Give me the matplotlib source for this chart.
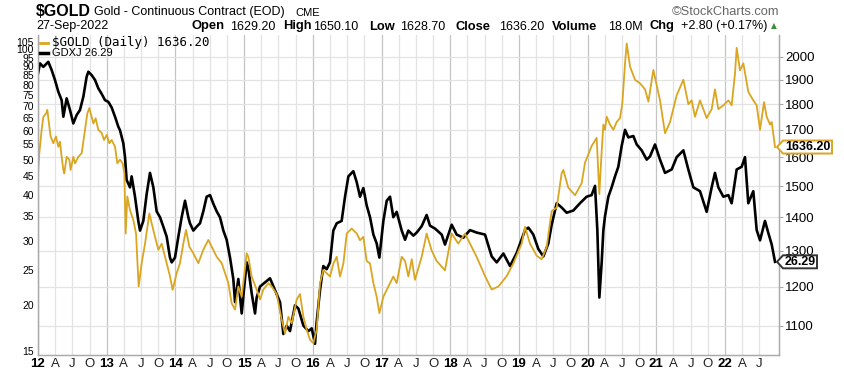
import numpy as np
import matplotlib.pyplot as plt
from matplotlib.lines import Line2D
from matplotlib.patches import Polygon
from matplotlib.transforms import IdentityTransform, blended_transform_factory
from matplotlib.ticker import NullLocator

plt.rcParams['font.family'] = ['Liberation Sans', 'DejaVu Sans']

# ---- data (decimal years) ----
gold_t = [2012.000, 2012.019, 2012.053, 2012.078, 2012.117, 2012.136, 2012.165, 2012.184, 2012.223, 2012.262,
          2012.296, 2012.320, 2012.344, 2012.369, 2012.383, 2012.417, 2012.456, 2012.475, 2012.514, 2012.539,
          2012.587, 2012.636, 2012.684, 2012.718, 2012.747, 2012.781, 2012.806, 2012.839, 2012.878, 2012.927,
          2012.961,
          2013.000, 2013.038, 2013.072, 2013.121, 2013.155, 2013.193, 2013.232, 2013.257, 2013.276, 2013.300,
          2013.339, 2013.388, 2013.427, 2013.465, 2013.509, 2013.558, 2013.621, 2013.655, 2013.703, 2013.752,
          2013.800, 2013.873, 2013.921, 2013.960,
          2014.018, 2014.067, 2014.115, 2014.154, 2014.203, 2014.261, 2014.334, 2014.406, 2014.479, 2014.528,
          2014.601, 2014.674, 2014.722, 2014.771, 2014.819, 2014.868, 2014.916, 2014.965,
          2015.038, 2015.062, 2015.110, 2015.183, 2015.232, 2015.280, 2015.353, 2015.402, 2015.474, 2015.547,
          2015.596, 2015.644, 2015.693, 2015.766, 2015.814, 2015.863, 2015.911, 2015.960,
          2016.008, 2016.056, 2016.105, 2016.153, 2016.202, 2016.250, 2016.299, 2016.348, 2016.396, 2016.445,
          2016.494, 2016.566, 2016.640, 2016.687, 2016.736, 2016.784, 2016.833, 2016.882, 2016.930, 2016.969,
          2017.027, 2017.100, 2017.172, 2017.221, 2017.294, 2017.343, 2017.391, 2017.440, 2017.487, 2017.585,
          2017.657, 2017.730, 2017.803, 2017.924,
          2018.022, 2018.117, 2018.215, 2018.288, 2018.385, 2018.507, 2018.604, 2018.701, 2018.822, 2018.919,
          2019.040, 2019.089, 2019.162, 2019.259, 2019.331, 2019.404, 2019.477, 2019.550, 2019.622, 2019.647,
          2019.719, 2019.817, 2019.914, 2019.962,
          2020.059, 2020.132, 2020.171, 2020.200, 2020.229, 2020.253, 2020.278, 2020.326, 2020.375, 2020.423,
          2020.472, 2020.505, 2020.545, 2020.569, 2020.618, 2020.690, 2020.763, 2020.836, 2020.885, 2020.957,
          2021.054, 2021.127, 2021.200, 2021.297, 2021.394, 2021.466, 2021.515, 2021.563, 2021.636, 2021.733,
          2021.806, 2021.854, 2021.903, 2021.976,
          2022.049, 2022.097, 2022.146, 2022.170, 2022.218, 2022.267, 2022.339, 2022.412, 2022.461, 2022.510,
          2022.568, 2022.607, 2022.655, 2022.680, 2022.728]
gold_v = [1543, 1614, 1700, 1750, 1763, 1777, 1712, 1675, 1650, 1675,
          1637, 1656, 1601, 1555, 1543, 1601, 1591, 1555, 1601, 1578,
          1601, 1614, 1700, 1763, 1784, 1750, 1724, 1744, 1700, 1688,
          1662,
          1681, 1650, 1662, 1637, 1578, 1591, 1578, 1543, 1350, 1466,
          1422, 1391, 1350, 1200, 1264, 1320, 1412, 1381, 1340, 1302,
          1320, 1264, 1228, 1191,
          1236, 1264, 1320, 1361, 1311, 1292, 1264, 1302, 1331, 1311,
          1282, 1264, 1236, 1209, 1156, 1140, 1200, 1173,
          1292, 1282, 1227, 1192, 1166, 1192, 1209, 1200, 1180, 1115,
          1081, 1122, 1106, 1166, 1180, 1122, 1090, 1066,
          1058, 1090, 1209, 1245, 1236, 1227, 1263, 1282, 1227, 1263,
          1350, 1365, 1350, 1330, 1340, 1270, 1263, 1209, 1173, 1131,
          1173, 1200, 1227, 1209, 1282, 1270, 1227, 1275, 1218, 1282,
          1350, 1300, 1270, 1244,
          1350, 1320, 1350, 1320, 1282, 1228, 1192, 1200, 1228, 1263,
          1320, 1370, 1320, 1285, 1275, 1310, 1419, 1430, 1543, 1555,
          1495, 1470, 1510, 1580,
          1640, 1670, 1474, 1600, 1720, 1700, 1750, 1720, 1700, 1730,
          1745, 1802, 1971, 2060, 1956, 1900, 1885, 1860, 1810, 1942,
          1815, 1687, 1730, 1836, 1900, 1800, 1815, 1750, 1815, 1745,
          1780, 1860, 1780, 1795,
          1815, 1795, 1928, 2040, 1940, 1971, 1850, 1815, 1795, 1700,
          1808, 1750, 1720, 1730, 1636.2]

gdxj_t = [2012.000, 2012.029, 2012.078, 2012.150, 2012.199, 2012.247, 2012.296, 2012.344, 2012.369, 2012.417,
          2012.466, 2012.514, 2012.563, 2012.611, 2012.660, 2012.708, 2012.733, 2012.781, 2012.830, 2012.878,
          2012.927, 2012.975,
          2013.024, 2013.072, 2013.121, 2013.169, 2013.193, 2013.242, 2013.266, 2013.290, 2013.339, 2013.363,
          2013.412, 2013.460, 2013.485, 2013.533, 2013.582, 2013.630, 2013.679, 2013.727, 2013.776, 2013.824,
          2013.873, 2013.921, 2013.946, 2013.994,
          2014.043, 2014.091, 2014.140, 2014.188, 2014.212, 2014.261, 2014.310, 2014.358, 2014.406, 2014.455,
          2014.504, 2014.552, 2014.601, 2014.649, 2014.698, 2014.746, 2014.795, 2014.843, 2014.868, 2014.916,
          2014.965,
          2015.013, 2015.038, 2015.062, 2015.110, 2015.159, 2015.183, 2015.232, 2015.304, 2015.377, 2015.450,
          2015.523, 2015.571, 2015.620, 2015.668, 2015.741, 2015.790, 2015.863, 2015.935, 2015.984,
          2016.032, 2016.056, 2016.105, 2016.153, 2016.202, 2016.250, 2016.299, 2016.348, 2016.420, 2016.469,
          2016.518, 2016.590, 2016.639, 2016.687, 2016.736, 2016.784, 2016.833, 2016.882, 2016.930, 2016.969,
          2017.027, 2017.076, 2017.124, 2017.172, 2017.221, 2017.294, 2017.343, 2017.391, 2017.464, 2017.512,
          2017.585, 2017.657, 2017.706, 2017.779, 2017.876, 2017.924,
          2018.022, 2018.094, 2018.191, 2018.288, 2018.385, 2018.507, 2018.604, 2018.677, 2018.774, 2018.871,
          2018.968,
          2019.089, 2019.138, 2019.210, 2019.283, 2019.356, 2019.428, 2019.477, 2019.550, 2019.622, 2019.695,
          2019.792, 2019.889, 2019.986,
          2020.059, 2020.108, 2020.142, 2020.171, 2020.205, 2020.229, 2020.253, 2020.302, 2020.350, 2020.399,
          2020.447, 2020.496, 2020.545, 2020.593, 2020.666, 2020.715, 2020.787, 2020.860, 2020.908, 2020.981,
          2021.054, 2021.127, 2021.224, 2021.297, 2021.394, 2021.466, 2021.539, 2021.636, 2021.733, 2021.806,
          2021.854, 2021.903, 2021.976,
          2022.049, 2022.097, 2022.170, 2022.243, 2022.291, 2022.339, 2022.412, 2022.461, 2022.510, 2022.582,
          2022.631, 2022.680, 2022.728]
gdxj_v = [86, 91.6, 89.6, 92.5, 87.8, 82.5, 76.6, 72.7, 65.5, 73.5,
          68.3, 62.8, 66.2, 68.3, 74.3, 84.2, 86.9, 85.1, 82.5, 78.3,
          75.6, 72.7,
          71.9, 69.4, 65.5, 61.5, 60.2, 55.4, 50.9, 44, 42, 45,
          39.6, 34, 32, 34, 40.3, 46, 42, 36.1, 34.8, 32.8,
          30.8, 27, 26.2, 27,
          30.8, 34.8, 38.6, 34.8, 33.5, 32, 32.8, 33.5, 36.1, 39.6,
          40, 37.9, 36.1, 34.8, 32, 30.2, 27, 23.6, 20.4, 23.6,
          19,
          23.6, 26.2, 25.2, 21.6, 19, 21, 22.5, 23.1, 23.7, 22,
          20.4, 16.7, 17.6, 17, 20, 19.6, 17.6, 17, 17.3,
          15.7, 18, 22, 25.6, 25.1, 26.2, 32, 33.5, 34, 39.6,
          45, 46.5, 43.4, 39.6, 41.8, 37.5, 34.8, 31.2, 29.5, 27,
          34, 38.6, 39.6, 34.8, 36, 32, 30.2, 32, 31, 31.6,
          32.9, 35.3, 33, 32.4, 31.2, 29.3,
          33.2, 31.2, 30.6, 32.1, 31.6, 31.2, 27.2, 26.2, 27.7, 25.6,
          27.8,
          32.1, 32.6, 31.2, 28.5, 27.2, 29.5, 33.2, 38, 37, 35.8,
          36.3, 38, 39.6,
          40, 42.4, 32, 21, 26.2, 32, 35, 39.6, 42, 45,
          47.8, 54.5, 60.3, 57.5, 58, 55, 53, 50, 51, 55,
          50, 46, 47, 50.8, 53, 47, 42, 41, 36, 42,
          46, 42, 39.6,
          40, 38, 47, 47.8, 50.8, 38, 41, 32.1, 30.1, 34,
          31.5, 29.3, 26.29]

gdxj_ticks = [15, 20, 25, 30, 35, 40, 45, 50, 55, 60, 65, 70, 75, 80, 85, 90, 95, 100, 105]
gold_ticks = [1100, 1200, 1300, 1400, 1500, 1600, 1700, 1800, 1900, 2000]
years = list(range(2012, 2023))
quarter_letters = ['A', 'J', 'O']

quote_fields = ['Open', 'High', 'Low', 'Close', 'Volume', 'Chg']
quote_values = ['1629.20', '1650.10', '1628.70', '1636.20', '18.0M', '+2.80 (+0.17%)']

GOLD = '#DAA520'
W, H = 844, 375

fig = plt.figure(figsize=(W / 100, H / 100), dpi=100)
ax = fig.add_axes([38 / W, 20 / H, 741 / W, 320 / H])
ax2 = ax.twinx()

ax.plot(gdxj_t, gdxj_v, color='black', lw=1.9, zorder=3)
ax2.plot(gold_t, gold_v, color=GOLD, lw=1.3)

# gridlines: vertical at quarters, horizontal at the gold axis values
quarters = [y + q / 4 for y in years for q in range(4) if y + q / 4 < 2022.75]
for q in quarters:
    ax.axvline(q, color='#c4c4c4' if q % 1 == 0 else '#e3e3e3', lw=0.9, zorder=1)
hline_tr = blended_transform_factory(ax.transAxes, ax2.transData)
for g in gold_ticks:
    ax.add_line(Line2D([0, 1], [g, g], transform=hline_tr, color='#e3e3e3', lw=0.9, zorder=1))

ax.set_yscale('log')
ax2.set_yscale('log')
ax.set_xlim(2012.0, 2022.786)
ax.set_ylim(14.63, 109.5)
ax2.set_ylim(1030.6, 2098.8)

ax.set_yticks(gdxj_ticks, labels=[str(v) for v in gdxj_ticks])
ax.yaxis.set_minor_locator(NullLocator())
ax2.set_yticks(gold_ticks, labels=[str(v) for v in gold_ticks])
ax2.yaxis.set_minor_locator(NullLocator())

xlabels = []
for q in quarters:
    xlabels.append(f'{int(q) % 100:02d}' if q % 1 == 0 else quarter_letters[int(round((q % 1) * 4)) - 1])
ax.set_xticks(quarters, labels=xlabels)
for lab, q in zip(ax.get_xticklabels(), quarters):
    if q % 1 == 0:
        lab.set_fontweight('bold')
        lab.set_fontsize(10.5)
    else:
        lab.set_color('#222222')

ax.tick_params(axis='x', length=0, pad=2, labelsize=9.5)
ax.tick_params(axis='y', length=0, pad=3, labelsize=7.5)
ax2.tick_params(axis='y', length=3, color='#aaaaaa', pad=1.5, labelsize=9.5)

for a in (ax, ax2):
    for side in ('left', 'right', 'bottom'):
        a.spines[side].set_color('#aaaaaa')
        a.spines[side].set_linewidth(0.9)
    a.spines['top'].set_visible(False)


def fpos(x, y):
    return x / W, 1 - y / H


# header
fig.text(*fpos(36, 12), r'\$GOLD', fontsize=11.5, fontweight='bold', va='center')
fig.text(*fpos(94, 12.5), 'Gold - Continuous Contract (EOD)', fontsize=9, va='center')
fig.text(*fpos(295, 13), 'CME', fontsize=8, va='center')
fig.text(*fpos(779, 12), '\u00a9StockCharts.com', fontsize=9.3, color='#666666', va='center', ha='right')
fig.text(*fpos(36, 26.5), '27-Sep-2022', fontsize=9, va='center')

field_x = [191.7, 282.7, 369.3, 456, 551.7, 650]
value_x = [230, 313.3, 400, 499, 607.7, 680.7]
for name, val, fx, vx in zip(quote_fields, quote_values, field_x, value_x):
    fig.text(*fpos(fx, 26.5), name, fontsize=9.3, fontweight='bold', va='center')
    fig.text(*fpos(vx, 26.5), val, fontsize=9, va='center')
fig.text(*fpos(771, 26), '\u25b2', fontsize=5.5, color='#3c8c3c', va='center', family='DejaVu Sans')

# legend in the top-left corner
fig.add_artist(Line2D([40 / W, 48 / W], [1 - 42.7 / H] * 2, color=GOLD, lw=2))
fig.text(*fpos(52, 42.7), r'\$GOLD (Daily) 1636.20', fontsize=9, va='center', family='DejaVu Sans Mono')
fig.add_artist(Line2D([40 / W, 48 / W], [1 - 53.3 / H] * 2, color='black', lw=2.5))
fig.text(*fpos(52, 53.5), 'GDXJ 26.29', fontsize=8, va='center')


# last-value tags on the right
def tag(yc, x0, x1, txt, edge):
    h = 13
    pts = [(x0, yc), (x0 + 6, yc + h / 2), (x1, yc + h / 2), (x1, yc - h / 2), (x0 + 6, yc - h / 2)]
    fig.add_artist(Polygon(pts, closed=True, transform=IdentityTransform(),
                           fc='white', ec=edge, lw=1.4, zorder=5))
    fig.text((x0 + 6 + x1) / 2, yc, txt, transform=IdentityTransform(), ha='center', va='center',
             fontsize=9, fontweight='bold', zorder=6)


yg = ax2.transData.transform((gold_t[-1], gold_v[-1]))[1]
yx = ax.transData.transform((gdxj_t[-1], gdxj_v[-1]))[1]
tag(yg, 777, 832, f'{gold_v[-1]:.2f}', GOLD)
tag(yx, 777, 817, f'{gdxj_v[-1]:.2f}', '#333333')

fig.savefig('out.png', dpi=100)
